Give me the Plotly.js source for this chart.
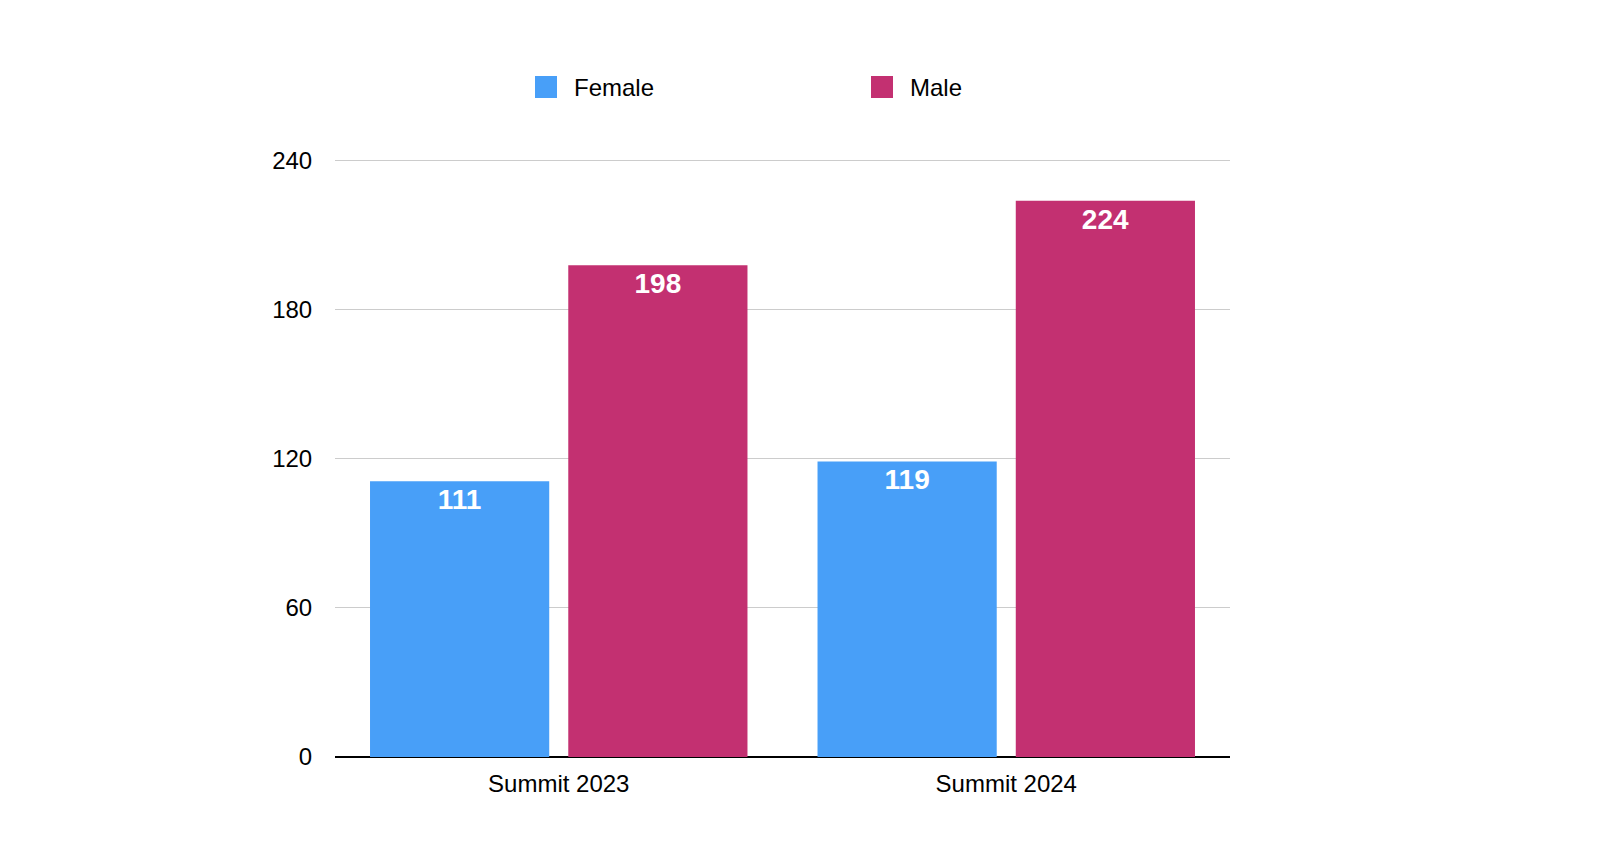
<!DOCTYPE html>
<html>
<head>
<meta charset="utf-8">
<script src="https://cdn.plot.ly/plotly-3.0.1.min.js"></script>
<style>
html,body{margin:0;padding:0;background:#fff;}
#chart{width:1600px;height:858px;}
</style>
</head>
<body>
<div id="chart"></div>
<script>
const categories = ["Summit 2023", "Summit 2024"];
const seriesNames = ["Female", "Male"];
const femaleValues = [111, 119];
const maleValues = [198, 224];
const seriesColors = ["#489ff8", "#c33071"];
const yTicks = [0, 60, 120, 180, 240];

const labelFont = {family: "Liberation Sans, Arial, sans-serif", size: 28, color: "#ffffff", weight: "bold"};

const traces = [femaleValues, maleValues].map(function (vals, i) {
  return {
    type: "bar", name: seriesNames[i], x: categories, y: vals,
    text: vals.map(String), textposition: "inside", insidetextanchor: "end",
    textfont: labelFont, marker: {color: seriesColors[i], line: {width: 0}},
    hoverinfo: "none", showlegend: false
  };
});

// Plot area geometry (pixels) for placing the custom legend
const W = 1600, H = 858, L = 335, R = 370, T = 156, B = 101;
const pw = W - L - R, ph = H - T - B;
const px = function (x) { return (x - L) / pw; };
const py = function (y) { return (H - B - y) / ph; };

const legendItems = [
  {sw: 535, tx: 572},
  {sw: 871, tx: 908}
];
const legendShapes = legendItems.map(function (it, i) {
  return {
    type: "rect", xref: "paper", yref: "paper",
    x0: px(it.sw), x1: px(it.sw + 22), y0: py(98), y1: py(76),
    fillcolor: seriesColors[i], line: {width: 0}, layer: "above"
  };
});
const legendTexts = legendItems.map(function (it, i) {
  return {
    xref: "paper", yref: "paper", x: px(it.tx), y: py(87),
    xanchor: "left", yanchor: "middle", showarrow: false,
    text: seriesNames[i], font: {size: 24, color: "#000"}
  };
});

const layout = {
  width: W, height: H,
  margin: {l: L, r: R, t: T, b: B},
  paper_bgcolor: "#ffffff", plot_bgcolor: "#ffffff",
  font: {family: "Liberation Sans, Arial, sans-serif", size: 24, color: "#000000"},
  barmode: "group", bargap: 0.114, bargroupgap: 0.096,
  showlegend: false,
  shapes: legendShapes,
  annotations: legendTexts,
  xaxis: {
    type: "category", showgrid: false, zeroline: false, showline: false,
    ticks: "outside", ticklen: 5, tickcolor: "rgba(0,0,0,0)",
    tickfont: {size: 24}
  },
  yaxis: {
    range: [0, 242], tickvals: yTicks, ticktext: yTicks.map(String),
    showgrid: true, gridcolor: "#cccccc", gridwidth: 1,
    zeroline: true, zerolinecolor: "#000000", zerolinewidth: 2,
    showline: false, ticks: "outside", ticklen: 17, tickcolor: "rgba(0,0,0,0)",
    tickfont: {size: 24}
  }
};

Plotly.newPlot("chart", traces, layout, {displayModeBar: false, staticPlot: true});
</script>
</body>
</html>
